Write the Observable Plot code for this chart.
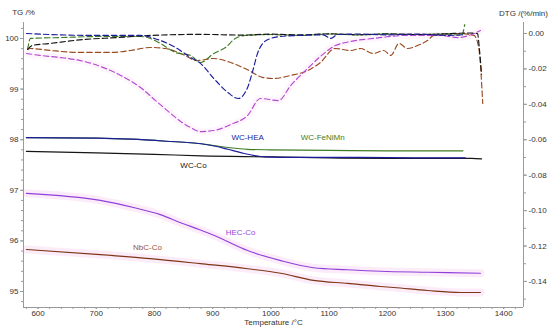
<!DOCTYPE html>
<html><head><meta charset="utf-8">
<script src="https://cdn.jsdelivr.net/npm/d3@7"></script>
<script src="https://cdn.jsdelivr.net/npm/@observablehq/plot@0.6"></script>
<style>body{margin:0;background:#fff} svg{display:block}</style>
</head><body><div id="chart"></div>
<script>
// ---- tick labels ----
const xTicks = [600, 700, 800, 900, 1000, 1100, 1200, 1300, 1400];
const tgTicks = [95, 96, 97, 98, 99, 100];
const dtgTicks = [0, -0.02, -0.04, -0.06, -0.08, -0.10, -0.12, -0.14];

// ---- TG (solid) ----
const hea_T   = [580, 700, 760, 820, 880, 905, 926, 950, 970, 990, 1050, 1150, 1250, 1334];
const hea_TG  = [98.04, 98.03, 98.01, 97.97, 97.92, 97.87, 97.81, 97.74, 97.69, 97.66, 97.65, 97.65, 97.64, 97.64];
const fnm_T   = [580, 700, 760, 820, 880, 905, 930, 960, 1000, 1100, 1200, 1330];
const fnm_TG  = [98.04, 98.03, 98.01, 97.97, 97.92, 97.88, 97.84, 97.81, 97.80, 97.79, 97.78, 97.78];
const wcco_T  = [580, 700, 800, 880, 1000, 1100, 1200, 1300, 1345, 1362];
const wcco_TG = [97.77, 97.74, 97.71, 97.68, 97.66, 97.64, 97.63, 97.63, 97.63, 97.62];
const hec_T   = [580, 707, 764, 810, 845, 880, 902, 960, 1017, 1073, 1132, 1188, 1269, 1360];
const hec_TG  = [96.94, 96.80, 96.66, 96.52, 96.36, 96.21, 96.11, 95.81, 95.61, 95.47, 95.43, 95.40, 95.38, 95.36];
const nbc_T   = [580, 707, 793, 879, 960, 1017, 1073, 1132, 1188, 1211, 1269, 1326, 1360];
const nbc_TG  = [95.83, 95.73, 95.65, 95.55, 95.45, 95.36, 95.22, 95.16, 95.10, 95.08, 95.02, 94.98, 94.98];

// ---- DTG (dashed) ----
const wcco_dT   = [582, 590, 621, 678, 736, 793, 879, 950, 1000, 1050, 1100, 1150, 1200, 1250, 1300, 1340, 1355, 1358, 1362];
const wcco_DTG  = [-0.009, -0.0068, -0.0056, -0.0034, -0.0023, -0.0011, -0.0005, -0.0009, -0.0004, -0.0008, -0.0002, -0.0007, -0.0002, -0.0006, -0.0002, 0.0003, 0.0, -0.008, -0.023];
const hea_dT    = [580, 621, 700, 776, 800, 836, 862, 879, 902, 926, 944, 960, 969, 977, 986, 1000, 1017, 1050, 1090, 1103, 1115, 1150, 1200, 1250, 1300, 1334];
const hea_DTG   = [0.0, -0.0006, -0.0011, -0.0011, -0.0028, -0.0079, -0.0136, -0.0169, -0.0254, -0.0333, -0.0367, -0.0305, -0.0209, -0.0113, -0.0056, -0.0028, -0.0017, -0.0011, -0.0008, -0.0028, -0.0006, -0.0003, -0.0008, -0.0003, -0.0011, -0.0006];
const fnm_dT    = [582, 587, 639, 707, 776, 793, 810, 836, 862, 879, 902, 922, 939, 957, 1000, 1050, 1100, 1150, 1200, 1250, 1300, 1328, 1333];
const fnm_DTG   = [-0.009, -0.0028, -0.0023, -0.0017, -0.0017, -0.0028, -0.0056, -0.0107, -0.0124, -0.0164, -0.0113, -0.0079, -0.0028, -0.0011, -0.0006, -0.0011, -0.0003, -0.0008, -0.0003, -0.0006, -0.0003, -0.0010, 0.005];
const nbc_dT    = [582, 587, 621, 673, 725, 759, 793, 819, 845, 874, 901, 931, 960, 987, 1005, 1034, 1063, 1085, 1110, 1137, 1154, 1176, 1194, 1206, 1220, 1235, 1252, 1269, 1280, 1321, 1349, 1357, 1364];
const nbc_DTG   = [-0.009, -0.0085, -0.0096, -0.0107, -0.0107, -0.0096, -0.0079, -0.0085, -0.0113, -0.0153, -0.0141, -0.0164, -0.0205, -0.0249, -0.0254, -0.0237, -0.0210, -0.0164, -0.0085, -0.0096, -0.0085, -0.0113, -0.0096, -0.0124, -0.0056, -0.0085, -0.0068, -0.0040, -0.0011, 0.0, -0.0011, -0.0079, -0.0395];
const hec_dT    = [580, 604, 639, 673, 707, 742, 776, 802, 828, 845, 862, 879, 902, 931, 960, 982, 1013, 1034, 1063, 1085, 1108, 1137, 1176, 1234, 1290, 1321, 1349, 1360];
const hec_DTG   = [-0.0113, -0.0124, -0.0136, -0.0153, -0.0186, -0.0237, -0.0305, -0.0379, -0.0452, -0.0497, -0.0531, -0.0554, -0.0548, -0.0514, -0.0463, -0.0367, -0.0379, -0.0294, -0.0198, -0.0130, -0.0073, -0.0045, -0.0028, -0.0011, -0.0011, -0.0023, 0.0, 0.0017];

// ---- series labels ----
const labelNames = ["WC-HEA", "WC-FeNiMn", "WC-Co", "HEC-Co", "NbC-Co"];
const labelT     = [960, 1089, 867, 948, 788];
const labelTG    = [98.04, 98.04, 97.49, 96.17, 95.87];

const C = {hea: "#1d1d9c", fnm: "#3f7d24", wcco: "#161616", hec: "#9140dc", hecD: "#b44ad2", nbc: "#7e3716", nbcD: "#9a4a20"};
const labelColors = [C.hea, C.fnm, C.wcco, "#9b46d8", "#a0522d"];

// DTG -> TG-equivalent position (secondary axis)
const toTG = d => 100.099 + 35.0 * d;
const fromTG = v => (v - 100.099) / 35.0;

const rows = (T, V, f = v => v) => T.map((t, i) => ({t, v: f(V[i])}));

const X0 = 575, X1 = 1434, Y0 = 94.684, Y1 = 100.316;
const dash = "5.5,3";
const lineOpt = (stroke, extra = {}) => ({x: "t", y: "v", stroke, strokeWidth: 1.15, curve: "monotone-x", ...extra});
const AX = "#9a9a9a";

const plot = Plot.plot({
  width: 550, height: 331,
  marginLeft: 23, marginRight: 27, marginTop: 22, marginBottom: 24,
  style: {fontFamily: "'Liberation Sans', Arial, sans-serif", fontSize: "8px", background: "#fff", color: "#333"},
  x: {domain: [X0, X1]},
  y: {domain: [Y0, Y1]},
  marks: [
    // faint pink highlight bands
    Plot.line(rows(hec_T, hec_TG), lineOpt("#fbe4f7", {strokeWidth: 8, strokeOpacity: 0.7})),
    Plot.line(rows(nbc_T, nbc_TG), lineOpt("#fbe4f7", {strokeWidth: 8, strokeOpacity: 0.7})),
    Plot.line(rows(hec_dT, hec_DTG, toTG), lineOpt("#fbe4f7", {strokeWidth: 7, strokeOpacity: 0.35})),
    // axes frame lines
    Plot.ruleX([X0], {stroke: AX}),
    Plot.ruleX([X1], {stroke: AX}),
    Plot.ruleY([Y0], {stroke: AX}),
    // axes
    Plot.axisX({ticks: xTicks, tickSize: 2, tickPadding: 1, label: null, stroke: AX, fill: "#333", tickFormat: d => String(d)}),
    Plot.axisX({ticks: d3.range(580, 1434, 20), tickSize: 2, tickFormat: () => "", label: null, stroke: AX}),
    Plot.axisY({anchor: "left", ticks: tgTicks, tickSize: 3, tickPadding: 2, label: null, stroke: AX, fill: "#333", tickFormat: d => String(d)}),
    Plot.axisY({anchor: "left", ticks: d3.range(94.8, 100.3, 0.2), tickSize: 2, tickFormat: () => "", label: null, stroke: AX}),
    Plot.axisY({anchor: "right", ticks: dtgTicks.map(toTG), tickSize: 3, tickPadding: 2, label: null, stroke: AX, fill: "#333",
      tickFormat: v => { const d = Math.round(fromTG(v) * 100) / 100; return (Math.abs(d) < 1e-9 ? 0 : d).toFixed(2); }}),
    Plot.axisY({anchor: "right", ticks: d3.range(-0.15, 0.006, 0.01).map(toTG), tickSize: 2, tickFormat: () => "", label: null, stroke: AX}),
    // DTG dashed curves
    Plot.line(rows(nbc_dT, nbc_DTG, toTG), lineOpt(C.nbcD, {strokeDasharray: dash})),
    Plot.line(rows(hec_dT, hec_DTG, toTG), lineOpt(C.hecD, {strokeDasharray: dash})),
    Plot.line(rows(fnm_dT, fnm_DTG, toTG), lineOpt(C.fnm, {strokeDasharray: dash})),
    Plot.line(rows(wcco_dT, wcco_DTG, toTG), lineOpt(C.wcco, {strokeDasharray: dash})),
    Plot.line(rows(hea_dT, hea_DTG, toTG), lineOpt(C.hea, {strokeDasharray: dash})),
    // TG solid curves
    Plot.line(rows(nbc_T, nbc_TG), lineOpt(C.nbc)),
    Plot.line(rows(hec_T, hec_TG), lineOpt(C.hec)),
    Plot.line(rows(wcco_T, wcco_TG), lineOpt(C.wcco)),
    Plot.line(rows(fnm_T, fnm_TG), lineOpt(C.fnm)),
    Plot.line(rows(hea_T, hea_TG), lineOpt(C.hea)),
    // series labels
    Plot.text(labelNames, {x: (d, i) => labelT[i], y: (d, i) => labelTG[i], text: d => d,
      fill: (d, i) => labelColors[i], fontSize: 8}),
    // axis titles
    Plot.text(["TG /%"], {frameAnchor: "top-left", dy: -13, text: d => d, textAnchor: "middle", fill: "#333", fontSize: 8}),
    Plot.text(["DTG /(%/min)"], {frameAnchor: "top-right", dy: -12, text: d => d, textAnchor: "middle", fill: "#333", fontSize: 8}),
    Plot.text(["Temperature /°C"], {frameAnchor: "bottom", dy: 17.5, text: d => d, fill: "#333", fontSize: 8})
  ]
});
document.getElementById("chart").appendChild(plot);
</script>
</body></html>
